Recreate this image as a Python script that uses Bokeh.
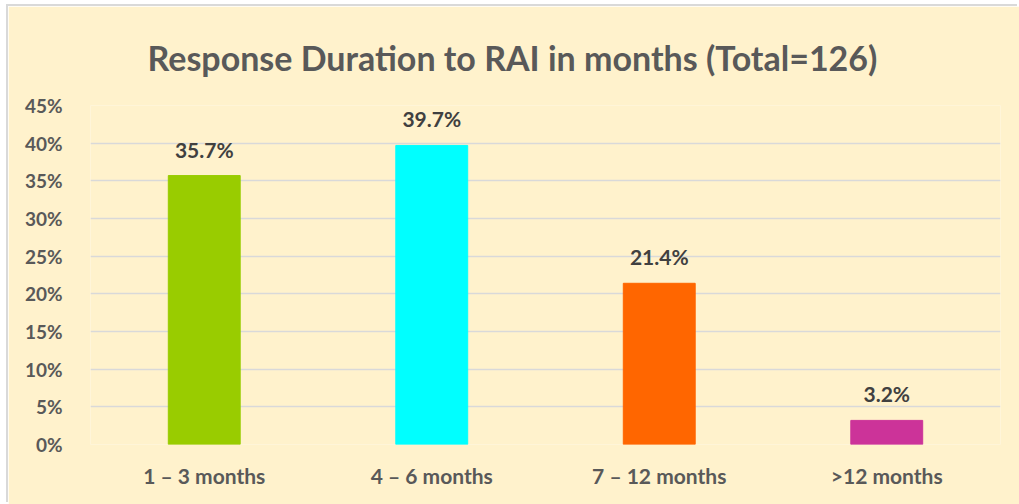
from bokeh.plotting import figure
from bokeh.models import ColumnDataSource, LabelSet, NumeralTickFormatter, FixedTicker, Range1d
from bokeh.core.properties import value
from bokeh.embed import file_html
from bokeh.resources import INLINE

categories = ["1 – 3 months", "4 – 6 months", "7 – 12 months", ">12 months"]
values = [0.357, 0.397, 0.214, 0.032]
labels = ["35.7%", "39.7%", "21.4%", "3.2%"]
colors = ["#99CC00", "#00FFFF", "#FF6600", "#CC3399"]
y_ticks = [0, 0.05, 0.10, 0.15, 0.20, 0.25, 0.30, 0.35, 0.40, 0.45]
title_text = "Response Duration to RAI in months (Total=126)"

FONT = "Lato"
BG = "#FFF2CC"

src = ColumnDataSource(dict(cat=categories, val=values, lab=labels, col=colors))

p = figure(x_range=categories, y_range=Range1d(0, 0.45), width=1011, height=498,
           output_backend="svg", toolbar_location=None,
           min_border_left=82, min_border_right=19, min_border_top=99, min_border_bottom=60,
           background_fill_color=BG, border_fill_color=BG,
           outline_line_color=None)
p.margin = (6, 0, 0, 8)
p.styles = {"box-shadow": "-2px -2px 0 0 #D9D9D9"}

p.title.text = title_text
p.title.align = "left"
p.title.text_font = FONT
p.title.text_font_size = "34px"
p.title.text_font_style = "bold"
p.title.text_color = "#595959"
p.title.offset = 57
p.title.standoff = 56

p.vbar(x="cat", top="val", width=0.316, color="col", source=src)

p.add_layout(LabelSet(x="cat", y="val", text="lab", source=src, text_align="center",
                      text_baseline="alphabetic", y_offset=18, text_font=value(FONT),
                      text_font_size="21px", text_font_style="bold", text_color="#404040"))

p.yaxis.ticker = FixedTicker(ticks=y_ticks)
p.yaxis.formatter = NumeralTickFormatter(format="0%")
p.xgrid.grid_line_color = None
p.ygrid.grid_line_color = "#D9D9D9"
p.ygrid.grid_line_width = 1.5
for ax in (p.xaxis, p.yaxis):
    ax.axis_line_color = None
    ax.major_tick_line_color = None
    ax.minor_tick_line_color = None
    ax.major_label_text_font = FONT
    ax.major_label_text_font_style = "bold"
    ax.major_label_text_color = "#595959"
p.yaxis.major_label_text_font_size = "19px"
p.xaxis.major_label_text_font_size = "21px"
p.yaxis.major_label_standoff = 22
p.xaxis.major_label_standoff = 12

open("out.html", "w").write(file_html(p, INLINE))
